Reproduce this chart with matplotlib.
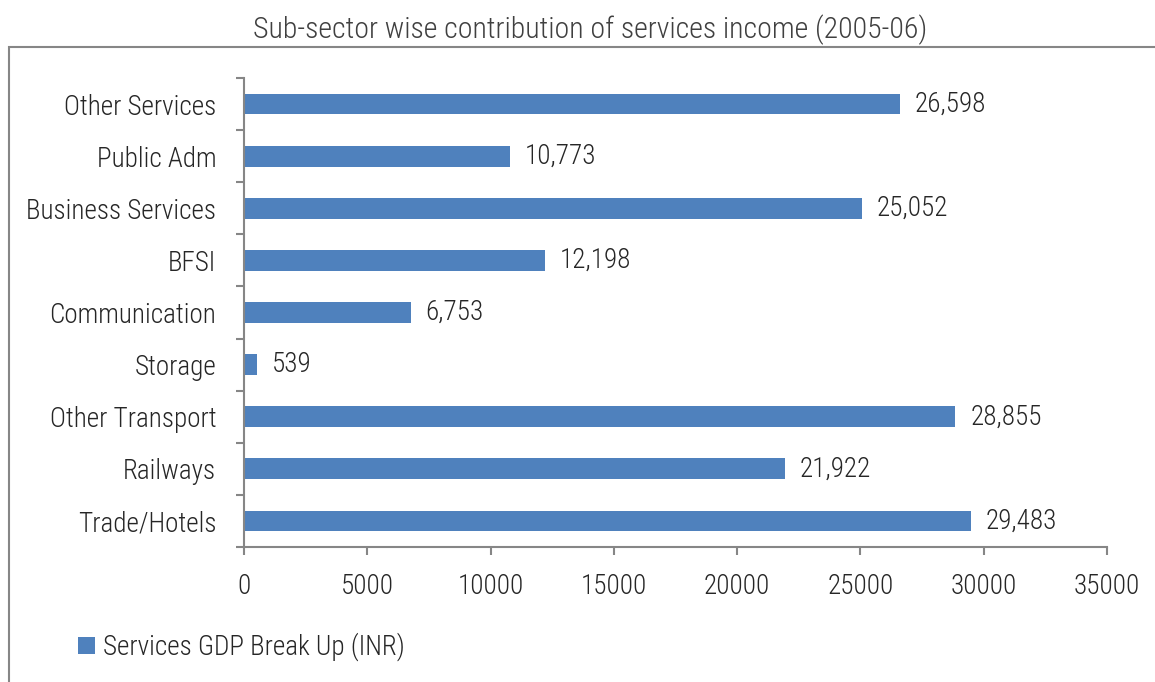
import matplotlib.pyplot as plt
from matplotlib.patches import Rectangle
import numpy as np

categories = ["Trade/Hotels", "Railways", "Other Transport", "Storage", "Communication",
              "BFSI", "Business Services", "Public Adm", "Other Services"]
values = [29483, 21922, 28855, 539, 6753, 12198, 25052, 10773, 26598]
x_ticks = [0, 5000, 10000, 15000, 20000, 25000, 30000, 35000]

BAR = "#4F81BD"
GREY = "#868686"
TEXT = "#262626"
FS = 19.5

plt.rcParams["font.family"] = ["Roboto Condensed", "Barlow Semi Condensed", "DejaVu Sans"]
plt.rcParams["font.weight"] = 300

fig = plt.figure(figsize=(11.55, 6.82), dpi=100)
ax = fig.add_axes([244 / 1155, 1 - 547 / 682, (1107 - 244) / 1155, (547 - 78) / 682])

# outer chart frame (cropped at right and bottom)
fig.patches.append(Rectangle((9 / 1155, -0.05), 1.1, 1 - 47 / 682 + 0.05,
                             transform=fig.transFigure, fill=False,
                             edgecolor=GREY, linewidth=1.5))

y = np.arange(len(categories))
bars = ax.barh(y, values, height=0.4, color=BAR, label="Services GDP Break Up (INR)")
for yi, v in zip(y, values):
    ax.text(v + 600, yi, f"{v:,}", va="center", ha="left", fontsize=FS, color=TEXT)

ax.set_xlim(0, 35000)
ax.set_ylim(-0.5, len(categories) - 0.5)
ax.set_xticks(x_ticks)
ax.set_xticklabels([str(t) for t in x_ticks])
ax.set_yticks(y)
ax.set_yticklabels(categories)
ax.set_yticks(np.arange(-0.5, len(categories)), minor=True)

for s in ["top", "right"]:
    ax.spines[s].set_visible(False)
for s in ["left", "bottom"]:
    ax.spines[s].set_color(GREY)
    ax.spines[s].set_linewidth(1.5)

ax.tick_params(axis="y", which="major", length=0, pad=20, labelsize=FS, labelcolor=TEXT)
ax.tick_params(axis="y", which="minor", length=6, width=1.5, color=GREY, direction="out")
ax.tick_params(axis="x", which="major", length=6, width=1.5, color=GREY, direction="out",
               pad=13, labelsize=FS, labelcolor=TEXT)

fig.text(590 / 1155, 1 - 30 / 682, "Sub-sector wise contribution of services income (2005-06)",
         ha="center", va="center", fontsize=21.5, color="#404040")

fig.legend(handles=[bars], labels=["Services GDP Break Up (INR)"], loc="center left",
           bbox_to_anchor=(54 / 1155, 1 - 647 / 682), frameon=False, fontsize=FS,
           handlelength=0.62, handleheight=0.62, handletextpad=0.3, labelcolor=TEXT)

fig.savefig("out.png", dpi=100)
